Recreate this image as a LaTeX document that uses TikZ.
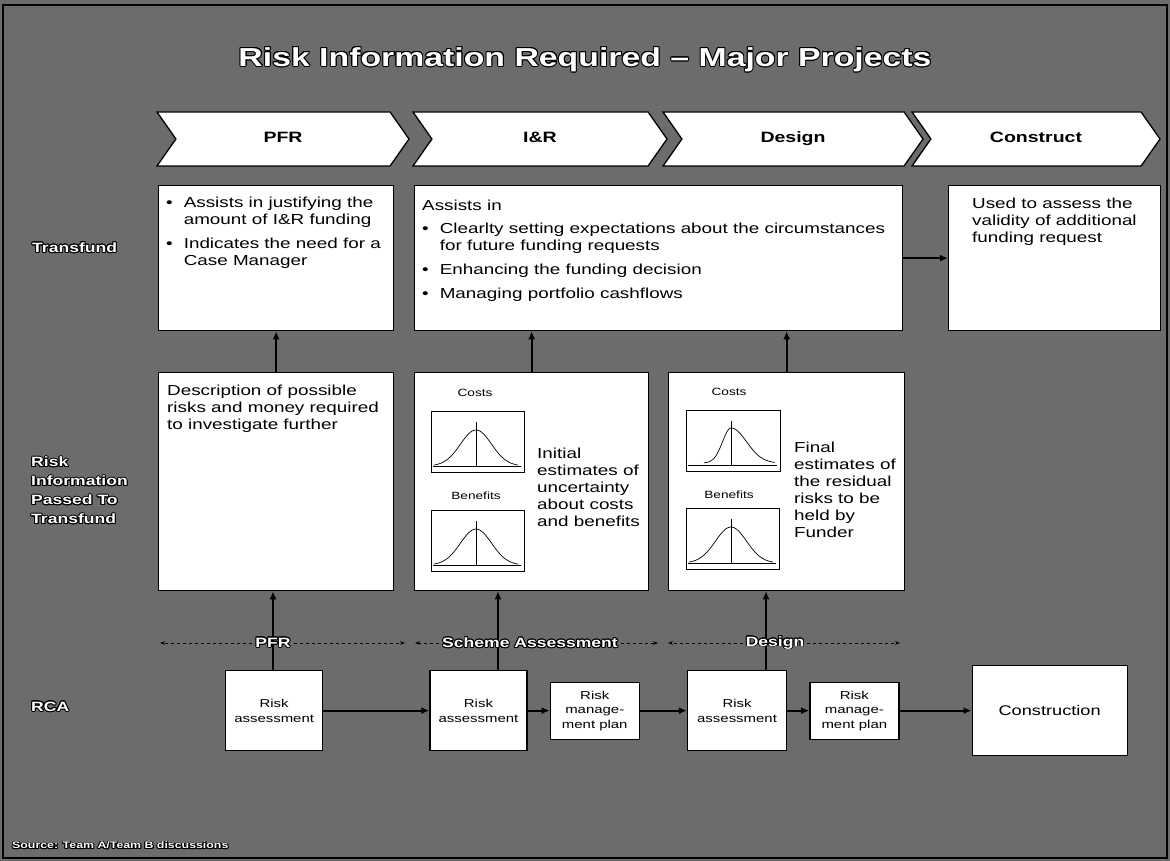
\documentclass[tikz,border=0pt]{standalone}
\usepackage{fontspec}
\setmainfont{Liberation Sans}[FakeStretch=1.3]
\usepackage{contour}
\contourlength{0.9pt}
\usepackage{tikz}
\usetikzlibrary{
  arrows.meta,
  positioning,
  shapes.symbols,
}
\tikzstyle{arrow} = [
  -{Latex[length=8pt,width=7pt]},
  line width=1.8pt,
  black,
]
\tikzstyle{span} = [
  -{Stealth[length=5pt]},
  dashed,
  line width=0.9pt,
  black,
]
\tikzstyle{infobox} = [draw,rectangle,fill=white,line width=1.3pt,anchor=north west,inner sep=0pt]
\tikzstyle{stepbox} = [draw,rectangle,fill=white,line width=1.3pt,align=center,inner sep=0pt,font=\fontsize{11.5}{14.5}\selectfont]
\tikzstyle{phase} = [draw,signal,signal from=west,signal to=east,signal pointer angle=110,fill=white,line width=1.3pt,minimum height=54pt,inner sep=0pt,text height=11pt,text depth=3pt,font=\bfseries\fontsize{15}{18}\selectfont]
\tikzstyle{bodytext} = [anchor=north west,align=left,inner sep=0pt,font=\fontsize{14.5}{17}\selectfont]
\tikzstyle{rowlabel} = [anchor=west,align=left,inner sep=0pt,text=white,font=\bfseries\fontsize{13.5}{19}\selectfont]
\tikzstyle{stagelabel} = [inner sep=3pt,text=white,font=\bfseries\fontsize{13.5}{16}\selectfont]
\tikzstyle{chartlabel} = [inner sep=0pt,font=\fontsize{10.5}{12}\selectfont]
\definecolor{scangray}{RGB}{108,108,108}

\begin{document}
\begin{tikzpicture}[x=1pt,y=-1pt,node distance=0pt and 0pt]
  \useasboundingbox (0,0) rectangle (1170,861);
  \fill[scangray] (0,0) rectangle (1170,861);
  \draw[line width=2pt] (3,5) rectangle (1167,858);

  % title and phases
  \node[text=white,font=\bfseries\fontsize{26}{30}\selectfont] (title) at (585,60) {\contour{black}{Risk Information Required – Major Projects}};
  \node[phase,minimum width=252pt] (phpfr)    at (283,139)  {PFR};
  \node[phase,minimum width=254pt] (phir)     at (540,139)  {I\&R};
  \node[phase,minimum width=260pt] (phdesign) at (793,139)  {Design};
  \node[phase,minimum width=248pt] (phcons)   at (1036,139) {Construct};

  % row labels
  \node[rowlabel] (lbltransfund) at (32,248) {\contour{black}{Transfund}};
  \node[rowlabel] (lblriskinfo)  at (31,491) {\contour{black}{Risk}\\\contour{black}{Information}\\\contour{black}{Passed To}\\\contour{black}{Transfund}};
  \node[rowlabel] (lblrca)       at (31,707) {\contour{black}{RCA}};

  % Transfund row
  \node[infobox,minimum width=235pt,minimum height=145pt] (pfrtop) at (158,185) {};
  \node[infobox,minimum width=488pt,minimum height=145pt] (irtop)  at (414,185) {};
  \node[infobox,minimum width=212pt,minimum height=145pt] (constop) at (948,185) {};
  \node[bodytext] (pfrtoptext) at (166,195) {\begin{tabular}{@{}l@{\hspace{11pt}}l@{}}
    \textbullet & Assists in justifying the\\
                & amount of I\&R funding\\[7pt]
    \textbullet & Indicates the need for a\\
                & Case Manager
  \end{tabular}};
  \node[bodytext] (irtoptext) at (422,198) {\begin{tabular}{@{}l@{\hspace{11pt}}l@{}}
    \multicolumn{2}{@{}l@{}}{Assists in}\\[6pt]
    \textbullet & Clearlty setting expectations about the circumstances\\
                & for future funding requests\\[7pt]
    \textbullet & Enhancing the funding decision\\[7pt]
    \textbullet & Managing portfolio cashflows
  \end{tabular}};
  \node[bodytext] (constoptext) at (972,198) {Used to assess the\\validity of additional\\funding request};
  \draw[arrow] (irtop.east) -- (constop.west);

  % risk information row
  \node[infobox,minimum width=235pt,minimum height=218pt] (pfrmid) at (158,372) {};
  \node[infobox,minimum width=234pt,minimum height=218pt] (irmid)  at (414,372) {};
  \node[infobox,minimum width=236pt,minimum height=218pt] (desmid) at (668,372) {};
  \node[bodytext] (pfrmidtext) at (167,385) {Description of possible\\risks and money required\\to investigate further};
  \node[bodytext,anchor=west] (irmidtext)  at (537,487) {Initial\\estimates of\\uncertainty\\about costs\\and benefits};
  \node[bodytext,anchor=west] (desmidtext) at (794,490) {Final\\estimates of\\the residual\\risks to be\\held by\\Funder};
  \node[chartlabel] (ircosts)  at (475,393) {Costs};
  \node[chartlabel] (irbens)   at (476,496) {Benefits};
  \node[chartlabel] (descosts) at (729,392) {Costs};
  \node[chartlabel] (desbens)  at (729,495) {Benefits};
  \foreach \cx/\cy in {476/466, 476/565, 731/563} {
    \draw[line width=0.8pt] (\cx-45,\cy-55) rectangle (\cx+48,\cy+6);
    \draw[line width=0.7pt] (\cx-43,\cy) -- (\cx+45,\cy);
    \draw[line width=0.7pt] (\cx,\cy) -- (\cx,\cy-44);
    \draw[line width=0.7pt] plot[domain=-42:42,samples=60,smooth] ({\cx+\x},{\cy-36*exp(-(\x/22)^2)});
  }
  \draw[line width=0.8pt] (686,410) rectangle (780,471);
  \draw[line width=0.7pt] (688,465) -- (777,465);
  \draw[line width=0.7pt] (731,465) -- (731,421);
  \draw[line width=0.7pt] plot[domain=-27:0,samples=30,smooth] ({731+\x},{463-35*exp(-(\x/12)^2)})
    -- plot[domain=0:44,samples=40,smooth] ({731+\x},{463-35*exp(-(\x/22)^2)});

  \draw[arrow] (pfrmid.north) -- (pfrtop.south);
  \draw[arrow] (irmid.north) -- (irmid.north |- irtop.south);
  \draw[arrow] (desmid.north) -- (desmid.north |- irtop.south);

  % RCA row
  \node[stepbox,anchor=north west,minimum width=97pt,minimum height=80pt] (ra1) at (225,670) {Risk\\assessment};
  \node[stepbox,minimum width=97pt,minimum height=80pt]  (ra2)  [right=106pt of ra1]  {Risk\\assessment};
  \node[stepbox,minimum width=89pt,minimum height=57pt]  (rmp1) [right=22pt of ra2]   {Risk\\manage-\\ment plan};
  \node[stepbox,minimum width=99pt,minimum height=80pt]  (ra3)  [right=47pt of rmp1]  {Risk\\assessment};
  \node[stepbox,minimum width=89pt,minimum height=57pt]  (rmp2) [right=22pt of ra3]   {Risk\\manage-\\ment plan};
  \node[stepbox,minimum width=155pt,minimum height=90pt,font=\fontsize{14}{17}\selectfont] (cons) [right=72pt of rmp2] {Construction};
  \draw[arrow] (ra1) -- (ra2);
  \draw[arrow] (ra2) -- (rmp1);
  \draw[arrow] (rmp1) -- (ra3);
  \draw[arrow] (ra3) -- (rmp2);
  \draw[arrow] (rmp2) -- (cons);

  % stages
  \coordinate (vpfr)    at (273,643);
  \coordinate (vscheme) at (498,643);
  \coordinate (vdesign) at (766,643);
  \draw[arrow] (vpfr |- ra1.north) -- (vpfr |- pfrmid.south);
  \draw[arrow] (vscheme |- ra2.north) -- (vscheme |- irmid.south);
  \draw[arrow] (vdesign |- ra3.north) -- (vdesign |- desmid.south);
  \node[stagelabel] (lblpfr)    at (273,643) {\contour{black}{PFR}};
  \node[stagelabel] (lblscheme) at (530,643) {\contour{black}{Scheme Assessment}};
  \node[stagelabel] (lbldesign) at (775,643) {\contour{black}{Design}};
  \coordinate (spfra) at (160,643);
  \coordinate (spfrb) at (405,643);
  \coordinate (sscha) at (415,643);
  \coordinate (sschb) at (658,643);
  \coordinate (sdesa) at (668,643);
  \coordinate (sdesb) at (900,643);
  \draw[span] (lblpfr.west) -- (spfra);
  \draw[span] (lblpfr.east) -- (spfrb);
  \draw[span] (lblscheme.west) -- (sscha);
  \draw[span] (lblscheme.east) -- (sschb);
  \draw[span] (lbldesign.west) -- (sdesa);
  \draw[span] (lbldesign.east) -- (sdesb);

  \node[anchor=west,inner sep=0pt,text=white,font=\bfseries\fontsize{9.5}{11}\selectfont] (source) at (12,846) {\contour{black}{Source: Team A/Team B discussions}};
\end{tikzpicture}
\end{document}
